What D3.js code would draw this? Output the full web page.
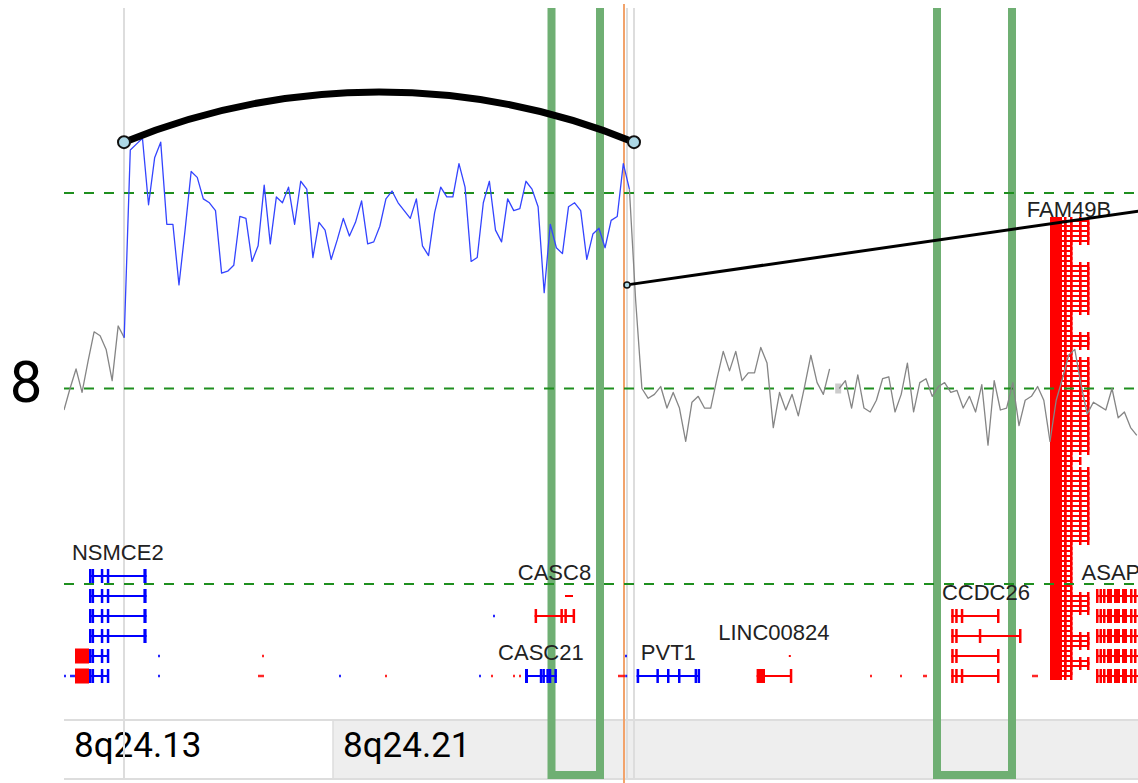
<!DOCTYPE html>
<html>
<head>
<meta charset="utf-8">
<script src="https://cdn.jsdelivr.net/npm/d3@7"></script>
<style>
  html, body { margin: 0; padding: 0; background: #fff; }
  svg { display: block; }
</style>
</head>
<body>
<svg id="chart" width="1138" height="783"></svg>
<script>
// ---- view window on chromosome 8 (positions in Mb) ----
const chromName = "8";
const viewRange = [125.0, 130.37];

// ---- copy-number profile: log2 ratio per bin, bins evenly spaced inside each segment ----
const segStarts = [125.000, 125.301, 127.827, 128.876];
const segEnds   = [125.301, 127.827, 128.828, 130.364];
const segGained = [false, true, false, false];
const seg1Values = [-0.11, 0.00, 0.10, -0.02, 0.14, 0.29, 0.27, 0.20, 0.04, 0.32, 0.26];
const seg2Values = [0.26, 1.22, 1.25, 1.28, 0.94, 1.18, 1.26, 0.84, 0.84, 0.53, 0.81, 1.11, 1.08, 0.97,
  0.95, 0.91, 0.59, 0.60, 0.63, 0.88, 0.87, 0.65, 0.73, 1.04, 0.74, 0.98, 0.95, 1.03, 0.84, 1.06, 1.02,
  0.67, 0.85, 0.81, 0.66, 0.76, 0.87, 0.78, 0.85, 0.96, 0.74, 0.75, 0.83, 0.97, 1.01, 0.95, 0.91, 0.87,
  0.97, 0.73, 0.68, 0.90, 1.03, 0.98, 0.98, 1.15, 1.03, 0.65, 0.67, 0.95, 1.06, 0.81, 0.75, 0.97, 0.91,
  0.92, 1.06, 1.02, 0.93, 0.49, 0.84, 0.72, 0.69, 0.93, 0.95, 0.91, 0.66, 0.79, 0.82, 0.72, 0.86, 0.88,
  1.15, 1.02];
const seg3Values = [1.02, 0.45, 0.00, -0.05, -0.03, 0.01, -0.10, -0.02, -0.10, -0.27, -0.07, -0.04,
  -0.10, -0.10, 0.05, 0.19, 0.09, 0.19, 0.04, 0.08, 0.08, 0.21, 0.13, -0.20, -0.02, -0.11, -0.03, -0.14,
  0.01, 0.17, 0.03, -0.03, 0.10];
const seg4Values = [0.00, 0.04, -0.10, 0.07, -0.10, -0.12, -0.06, 0.05, 0.06, -0.12, -0.03, 0.13, -0.12,
  0.03, 0.05, -0.04, 0.01, 0.03, -0.02, -0.01, -0.10, -0.04, -0.12, 0.02, -0.29, 0.04, -0.11, -0.10, 0.03,
  -0.19, -0.06, -0.04, 0.01, -0.06, -0.27, -0.06, 0.05, 0.17, 0.20, 0.02, -0.13, -0.07, -0.09, -0.11,
  0.00, -0.15, -0.12, -0.20, -0.24];
const flaggedBins = [{ segment: 3, bin: 0 }];
const thresholds = [1, 0, -1];

// ---- breakpoints, selected position, regions of interest, links ----
const breakpoints = [125.30, 127.815, 127.85];
const selectedPos = 127.80;
const regions = [[127.4375, 127.68], [129.365, 129.74]];
const linkFrom      = [125.30, 127.815];
const linkTo        = [127.85, 131.00];
const linkFromLevel = [1.26, 0.53];
const linkToLevel   = [1.26, 1.00];
const linkKind      = ["arc", "straight"];

// ---- cytobands ----
const bandNames  = ["8q24.13", "8q24.21", "8q24.22"];
const bandStarts = [124.70, 126.345, 128.325];
const bandEnds   = [126.345, 128.325, 130.80];
const bandStain  = ["gneg", "gpos", "gpos"];
const bandLabelShown = [true, true, false];

// ---- genes: transcripts with lane and exons [start, end] (Mb) ----
const geneNames   = ["NSMCE2", "CASC8", "CASC21", "PVT1", "LINC00824", "CCDC26", "FAM49B", "ASAP1"];
const geneStrands = ["+", "-", "+", "+", "-", "-", "-", "-"];

const nsmce2Long  = [[125.125, 125.132], [125.138, 125.145], [125.184, 125.193], [125.214, 125.223], [125.397, 125.413]];
const nsmce2Short = [[125.125, 125.132], [125.138, 125.145], [125.184, 125.193], [125.214, 125.223]];
const ccdc26Exons = [
  [[129.436, 129.444], [129.456, 129.463], [129.484, 129.491], [129.665, 129.674]],
  [[129.436, 129.444], [129.456, 129.463], [129.574, 129.580], [129.775, 129.783]],
  [[129.436, 129.444], [129.456, 129.463], [129.665, 129.674]],
  [[129.436, 129.444], [129.456, 129.463], [129.484, 129.491], [129.665, 129.674]]
];
const asap1Exons = [[130.160, 130.170], [130.1775, 130.185], [130.195, 130.205], [130.215, 130.240],
  [130.250, 130.280], [130.290, 130.315], [130.330, 130.340], [130.350, 130.360], [130.440, 130.450]];

// FAM49B isoforms, top to bottom (L = long, M = medium, S = short)
const fam49bIsoforms = ["LLLLL", "SSSS", "LLLLLLLLLL", "SSSS", "LLL", "SS", "LLLLLLLLLL" + "LLLLLLLLL",
  "SMS", "LLLLLLLLLLLLLLL", "SSSSSSSSSS", "LLLL", "SSSS", "LLL", "SSL", "LSS"].join("").split("");
const fam49bExonSets = {
  L: [[129.93, 129.99], [130.000, 130.005], [130.030, 130.035], [130.075, 130.080], [130.115, 130.120]],
  M: [[129.93, 129.99], [130.000, 130.005], [130.030, 130.035], [130.075, 130.080]],
  S: [[129.93, 129.99], [130.000, 130.005], [130.030, 130.036]]
};

const geneTranscripts = [
  [0, 1, 2, 3].map(l => ({ lane: l, exons: nsmce2Long }))
    .concat([4, 5].map(l => ({ lane: l, exons: nsmce2Short }))),
  [{ lane: 1, span: [127.505, 127.545], exons: [] },
   { lane: 2, exons: [[127.353, 127.361], [127.482, 127.489], [127.502, 127.509], [127.543, 127.552]] }],
  [{ lane: 5, exons: [[127.305, 127.320], [127.379, 127.384], [127.392, 127.397], [127.412, 127.417], [127.424, 127.429], [127.452, 127.464]] }],
  [{ lane: 5, exons: [[127.863, 127.876], [127.962, 127.967], [128.015, 128.020], [128.070, 128.075], [128.153, 128.158], [128.168, 128.180]] }],
  [{ lane: 4, span: [128.624, 128.628], exons: [] },
   { lane: 5, exons: [[128.463, 128.505], [128.629, 128.635]] }],
  ccdc26Exons.map((ex, i) => ({ lane: 2 + i, exons: ex })),
  fam49bIsoforms.map((t, i) => ({ lane: 5 - (fam49bIsoforms.length - 1 - i) / 4, exons: fam49bExonSets[t] })),
  [1, 2, 3, 4, 5].map(l => ({ lane: l, exons: asap1Exons }))
];

// small unlabeled features: [start, end, lane, strand]
const minorFeatures = [
  [125.000, 125.008, 5, "+"], [125.030, 125.055, 5, "+"], [125.470, 125.475, 4, "+"], [125.470, 125.475, 5, "+"],
  [125.990, 125.996, 4, "-"], [125.970, 126.000, 5, "-"], [126.375, 126.380, 5, "+"], [126.605, 126.610, 5, "-"],
  [127.075, 127.080, 5, "+"], [127.135, 127.140, 5, "-"], [127.245, 127.250, 5, "-"], [127.275, 127.280, 5, "-"],
  [127.145, 127.150, 2, "+"], [127.770, 127.805, 5, "-"], [127.805, 127.810, 4, "+"], [127.806, 127.811, 5, "+"],
  [129.030, 129.035, 5, "-"], [129.180, 129.185, 5, "-"], [129.295, 129.315, 5, "-"], [129.840, 129.870, 5, "-"]
];
// unlabeled exons drawn full height: [start, end, lane, strand]
const minorExons = [[125.055, 125.125, 4, "-"], [125.055, 125.125, 5, "-"]];

// ---------------------------------------------------------------------------
const W = 1138, H = 783;
const plotLeft = 64, plotTop = 8;
const svg = d3.select("#chart");

const x = d3.scaleLinear().domain(viewRange).range([plotLeft, W]);
const y = d3.scaleLinear().domain([-1, 1]).range([584, 193]);
const laneY = d3.scaleLinear().domain([0, 5]).range([576, 676]);
const strandColor = s => (s === "+" ? "#0000ff" : "#ff0000");

svg.append("defs").append("clipPath").attr("id", "plotClip")
  .append("rect").attr("x", plotLeft).attr("y", 0).attr("width", W - plotLeft).attr("height", H);

const root = svg.append("g").attr("clip-path", "url(#plotClip)");

// cytoband ideogram
const ideoTop = 720, ideoBottom = 779;
const bands = root.append("g");
bandNames.forEach((name, i) => {
  const x0 = Math.max(x(bandStarts[i]), plotLeft), x1 = x(bandEnds[i]);
  bands.append("rect").attr("x", x0).attr("y", ideoTop).attr("width", x1 - x0)
    .attr("height", ideoBottom - ideoTop)
    .attr("fill", bandStain[i] === "gneg" ? "#ffffff" : "#eeeeee");
});
bands.selectAll("line.edge").data([ideoTop, ideoBottom]).join("line")
  .attr("x1", plotLeft).attr("x2", W).attr("y1", d => d).attr("y2", d => d)
  .attr("stroke", "#dddddd").attr("stroke-width", 2);
bandStarts.slice(1, 2).forEach(s => {
  bands.append("line").attr("x1", x(s)).attr("x2", x(s)).attr("y1", ideoTop).attr("y2", ideoBottom)
    .attr("stroke", "#dddddd").attr("stroke-width", 1.5);
});
bandNames.forEach((name, i) => {
  if (!bandLabelShown[i]) return;
  bands.append("text").attr("x", Math.max(x(bandStarts[i]), plotLeft) + 10).attr("y", 757)
    .attr("font-family", "Roboto, 'Liberation Sans', sans-serif").attr("font-size", 35)
    .attr("fill", "#000").text(name);
});

// breakpoint guides and selected position
root.selectAll("line.bp").data(breakpoints).join("line")
  .attr("x1", d => x(d)).attr("x2", d => x(d)).attr("y1", plotTop).attr("y2", 780)
  .attr("stroke", "#dddddd").attr("stroke-width", 2);
root.append("line").attr("x1", x(selectedPos)).attr("x2", x(selectedPos)).attr("y1", 4).attr("y2", H)
  .attr("stroke", "#f2a36b").attr("stroke-width", 2);

// regions of interest (U-shaped brackets)
root.selectAll("path.roi").data(regions).join("path")
  .attr("d", d => `M${x(d[0])},${plotTop}V775H${x(d[1])}V${plotTop}`)
  .attr("fill", "none").attr("stroke", "#6faf73").attr("stroke-width", 8);

// genes
const genesG = root.append("g");
function drawTranscript(g, tx, color, dense) {
  const yy = laneY(tx.lane);
  const ends = tx.exons.flat().concat(tx.span || []);
  const x0 = x(d3.min(ends)), x1 = x(d3.max(ends));
  g.append("rect").attr("x", x0).attr("y", yy - 1).attr("width", Math.max(2, x1 - x0)).attr("height", 2)
    .attr("fill", color);
  const h = dense ? 8 : 14;
  tx.exons.forEach(e => {
    const ex0 = x(e[0]), ex1 = x(e[1]);
    g.append("rect").attr("x", ex0).attr("y", yy - h / 2).attr("width", Math.max(2.5, ex1 - ex0))
      .attr("height", h).attr("fill", color);
  });
}
minorFeatures.forEach(f => {
  const x0 = x(f[0]), x1 = x(f[1]);
  genesG.append("rect").attr("x", x0).attr("y", laneY(f[2]) - 1.25).attr("width", Math.max(2, x1 - x0))
    .attr("height", 2.5).attr("fill", strandColor(f[3])).attr("opacity", 0.85);
});
minorExons.forEach(f => {
  genesG.append("rect").attr("x", x(f[0])).attr("y", laneY(f[2]) - 7.5).attr("width", x(f[1]) - x(f[0]))
    .attr("height", 15).attr("fill", strandColor(f[3]));
});
geneNames.forEach((name, gi) => {
  const color = strandColor(geneStrands[gi]);
  const txs = geneTranscripts[gi];
  const dense = txs.length > 8;
  const g = genesG.append("g");
  txs.forEach(tx => drawTranscript(g, tx, color, dense));
  const all = txs.flatMap(t => t.exons.flat().concat(t.span || []));
  const lo = Math.max(d3.min(all), viewRange[0]), hi = Math.min(d3.max(all), viewRange[1]);
  const topLane = d3.min(txs, t => t.lane);
  const pitch = dense ? 5 : 20;
  genesG.append("text").attr("x", x((lo + hi) / 2)).attr("y", laneY(topLane) - 0.8 * pitch)
    .attr("text-anchor", "middle").attr("font-family", "'Liberation Sans', Arial, sans-serif")
    .attr("font-size", 22).attr("fill", "#222").text(name);
});

// threshold lines
root.selectAll("line.thr").data(thresholds).join("line")
  .attr("x1", plotLeft).attr("x2", W).attr("y1", d => y(d)).attr("y2", d => y(d))
  .attr("stroke", "#1f8f1f").attr("stroke-width", 2).attr("stroke-dasharray", "10,10");

// copy-number profile
const segValues = [seg1Values, seg2Values, seg3Values, seg4Values];
const segments = segValues.map((vals, s) => vals.map((v, i) => ({
  pos: segStarts[s] + i * (segEnds[s] - segStarts[s]) / (vals.length - 1), v
})));
const line = d3.line().x(d => x(d.pos)).y(d => y(d.v));
flaggedBins.forEach(f => {
  const p = segments[f.segment][f.bin];
  root.append("rect").attr("x", x(p.pos) - 4).attr("y", y(p.v) - 5).attr("width", 6).attr("height", 10)
    .attr("fill", "#cccccc");
});
segments.forEach((pts, s) => {
  root.append("path").attr("d", line(pts)).attr("fill", "none")
    .attr("stroke", segGained[s] ? "#3344ff" : "#858585").attr("stroke-width", 1.3)
    .attr("stroke-linejoin", "round");
});

// links between breakpoints
const linksG = root.append("g");
linkFrom.forEach((f, i) => {
  const x0 = x(f), y0 = y(linkFromLevel[i]), x1 = x(linkTo[i]), y1 = y(linkToLevel[i]);
  if (linkKind[i] === "arc") {
    const r = Math.hypot(x1 - x0, y1 - y0) * 1.32;
    linksG.append("path").attr("d", `M${x0},${y0}A${r},${r} 0 0 1 ${x1},${y1}`)
      .attr("fill", "none").attr("stroke", "#000").attr("stroke-width", 7);
    [[x0, y0], [x1, y1]].forEach(p => linksG.append("circle").attr("cx", p[0]).attr("cy", p[1]).attr("r", 6)
      .attr("fill", "#add8e6").attr("stroke", "#111").attr("stroke-width", 2));
  } else {
    linksG.append("line").attr("x1", x0).attr("y1", y0).attr("x2", x1).attr("y2", y1)
      .attr("stroke", "#000").attr("stroke-width", 3);
    linksG.append("circle").attr("cx", x0).attr("cy", y0).attr("r", 3)
      .attr("fill", "#add8e6").attr("stroke", "#111").attr("stroke-width", 1.5);
  }
});

// chromosome label
svg.append("text").attr("x", 26).attr("y", 402).attr("text-anchor", "middle")
  .attr("font-family", "Roboto, 'Liberation Sans', sans-serif").attr("font-size", 58)
  .attr("fill", "#000").text(chromName);
</script>
</body>
</html>
